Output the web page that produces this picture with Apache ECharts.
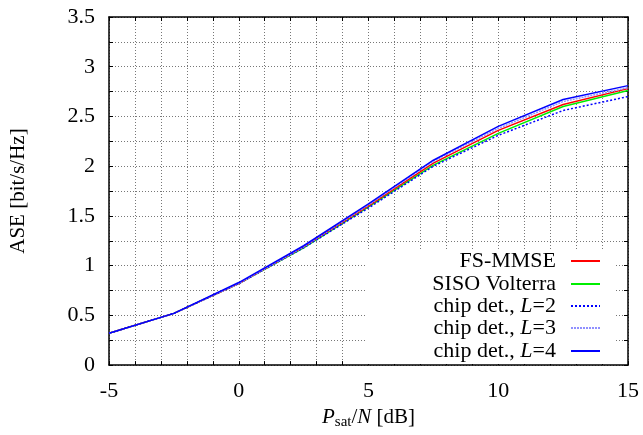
<!DOCTYPE html>
<html>
<head>
<meta charset="utf-8">
<script src="https://cdn.jsdelivr.net/npm/echarts@6/dist/echarts.min.js"></script>
<style>html,body{margin:0;padding:0;background:#fff}#c{width:643px;height:435px}</style>
</head>
<body>
<div id="c"></div>
<script>
var xValues = [-5, -2.5, 0, 2.5, 5, 7.5, 10, 12.5, 15];
var fsMmse = [0.32, 0.52, 0.82, 1.19, 1.60, 2.03, 2.36, 2.62, 2.78];
var sisoVolterra = [0.32, 0.52, 0.82, 1.18, 1.59, 2.01, 2.33, 2.60, 2.76];
var chipL2 = [0.32, 0.52, 0.82, 1.18, 1.58, 2.00, 2.31, 2.56, 2.70];
var chipL3 = [0.32, 0.52, 0.82, 1.19, 1.61, 2.05, 2.38, 2.65, 2.79];
var chipL4 = [0.32, 0.52, 0.83, 1.20, 1.62, 2.06, 2.40, 2.67, 2.81];
var seriesNames = ['FS-MMSE', 'SISO Volterra', 'chip det., L=2', 'chip det., L=3', 'chip det., L=4'];

var FONT = '"Liberation Serif", "DejaVu Serif", serif';
var FS = 22;
function pairs(ys) { return xValues.map(function (x, i) { return [x, ys[i]]; }); }

var styles = [
  {color: '#ff0000', type: 'solid'},
  {color: '#00ee00', type: 'solid'},
  {color: '#0000ff', type: [2, 2]},
  {color: '#9090ff', type: [2, 1]},
  {color: '#0000ff', type: 'solid'}
];
var datas = [fsMmse, sisoVolterra, chipL2, chipL3, chipL4];

var series = seriesNames.map(function (n, i) {
  return {
    name: n, type: 'line', data: pairs(datas[i]), symbol: 'none',
    lineStyle: {color: styles[i].color, type: styles[i].type, width: 1.5},
    itemStyle: {color: styles[i].color},
    z: 3 + (i === 1 ? 0 : i === 0 ? 1 : 2), animation: false
  };
});

var legendTops = [261, 284, 306, 328, 351];
var legends = seriesNames.map(function (n, i) {
  return {
    data: [n], orient: 'vertical', right: 42, top: legendTops[i] - 11,
    padding: 0, align: 'right', itemWidth: 29, itemHeight: 10,
    selectedMode: false,
    itemStyle: {opacity: 0},
    formatter: function (name) {
      return name.replace(/L=(\d)/, '{i|L}=$1');
    },
    textStyle: {
      fontFamily: FONT, fontSize: FS, color: '#000', lineHeight: 22,
      padding: [0, 10, 0, 0],
      rich: {i: {fontFamily: FONT, fontSize: FS, fontStyle: 'italic', color: '#000', lineHeight: 22}}
    }
  };
});

var gridLine = {show: true, lineStyle: {color: '#777', type: [1, 2], width: 1}};
var axisLine = {show: true, onZero: false, lineStyle: {color: '#000', width: 1.5}};
var tick = {show: true, inside: true, length: 4, lineStyle: {color: '#000', width: 1}};

var option = {
  animation: false,
  backgroundColor: '#fff',
  grid: {left: 108, right: 15, top: 17, bottom: 69, containLabel: false},
  legend: legends,
  graphic: [{
    type: 'rect', z: 1, shape: {x: 367, y: 250, width: 248, height: 114},
    style: {fill: '#fff'}
  }],
  xAxis: [{
    type: 'value', min: -5, max: 15, interval: 1, position: 'bottom',
    axisLine: axisLine, axisTick: tick, splitLine: gridLine,
    axisLabel: {
      margin: 15, fontFamily: FONT, fontSize: FS, color: '#000',
      formatter: function (v) { return (v % 5 === 0) ? String(v) : ''; }
    },
    name: '{i|P}{sub|sat}/{i|N} [dB]', nameLocation: 'middle', nameGap: 34,
    nameTextStyle: {
      fontFamily: FONT, fontSize: 21, color: '#000',
      rich: {
        i: {fontFamily: FONT, fontSize: 21, fontStyle: 'italic', color: '#000'},
        sub: {fontFamily: FONT, fontSize: 15, color: '#000', verticalAlign: 'bottom', padding: [10, 0, 0, 0]}
      }
    }
  }, {
    type: 'value', min: -5, max: 15, interval: 1, position: 'top',
    axisLine: axisLine, axisTick: tick, splitLine: {show: false},
    axisLabel: {show: false}
  }],
  yAxis: [{
    type: 'value', min: 0, max: 3.5, interval: 0.25, position: 'left',
    axisLine: axisLine, axisTick: tick, splitLine: gridLine,
    axisLabel: {
      margin: 14, fontFamily: FONT, fontSize: FS, color: '#000',
      formatter: function (v) { return (Math.abs(v * 2 - Math.round(v * 2)) < 1e-6) ? String(v) : ''; }
    },
    name: 'ASE [bit/s/Hz]', nameLocation: 'middle', nameGap: 80,
    nameTextStyle: {fontFamily: FONT, fontSize: 21, color: '#000'}
  }, {
    type: 'value', min: 0, max: 3.5, interval: 0.25, position: 'right',
    axisLine: axisLine, axisTick: tick, splitLine: {show: false},
    axisLabel: {show: false}
  }],
  series: series
};

var chart = echarts.init(document.getElementById('c'), null, {renderer: 'canvas'});
chart.setOption(option);
</script>
</body>
</html>
